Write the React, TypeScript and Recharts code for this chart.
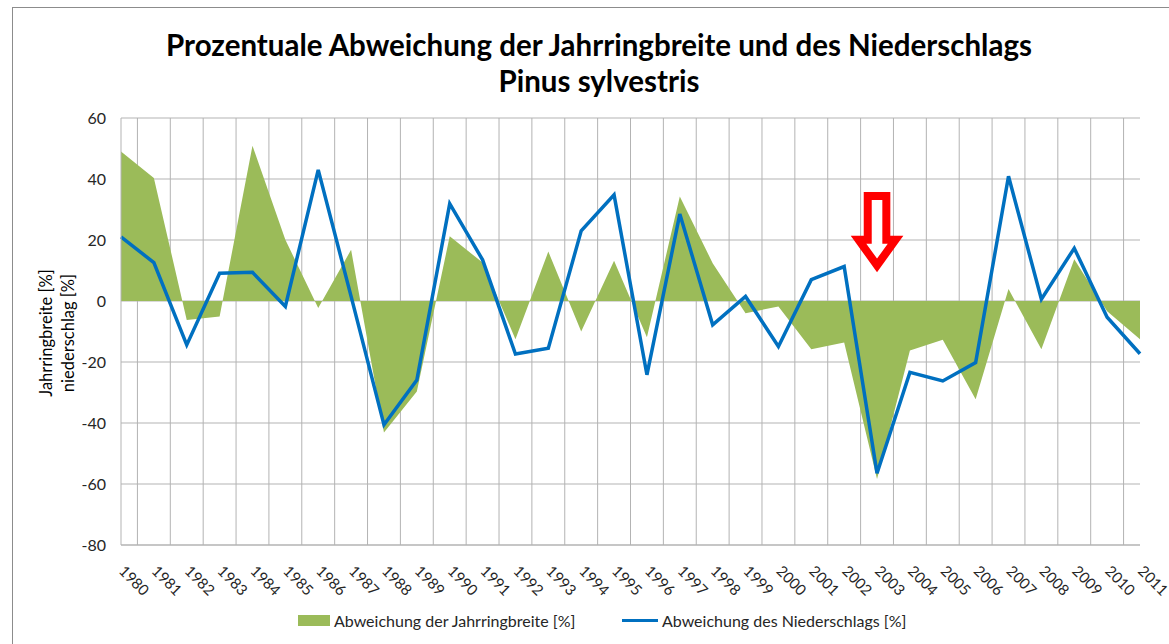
import React from "react";
import {
  ComposedChart,
  Area,
  Line,
  XAxis,
  YAxis,
  CartesianGrid,
  Legend,
  ReferenceDot,
} from "recharts";

const years = [
  1980, 1981, 1982, 1983, 1984, 1985, 1986, 1987, 1988, 1989, 1990, 1991, 1992, 1993, 1994, 1995,
  1996, 1997, 1998, 1999, 2000, 2001, 2002, 2003, 2004, 2005, 2006, 2007, 2008, 2009, 2010, 2011,
];
const ringWidth = [
  49.0, 40.3, -6.2, -5.1, 50.9, 20.1, -2.3, 16.8, -43.1, -29.7, 21.2, 12.6, -12.5, 16.2, -10.0, 13.2,
  -11.9, 34.3, 12.4, -4.0, -1.8, -15.8, -13.6, -58.4, -16.2, -12.7, -32.2, 3.9, -15.8, 13.7, -3.4, -12.5,
];
const precipitation = [
  21.0, 12.6, -14.4, 9.1, 9.4, -1.8, 43.0, 1.5, -40.6, -25.9, 31.9, 13.5, -17.4, -15.5, 23.0, 34.8,
  -24.2, 28.5, -7.8, 1.5, -14.9, 7.0, 11.3, -56.5, -23.4, -26.2, -20.2, 40.9, 0.6, 17.3, -5.3, -17.3,
];
// gridlines sit between the years
const gridYears = [
  1980.5, 1981.5, 1982.5, 1983.5, 1984.5, 1985.5, 1986.5, 1987.5, 1988.5, 1989.5, 1990.5, 1991.5,
  1992.5, 1993.5, 1994.5, 1995.5, 1996.5, 1997.5, 1998.5, 1999.5, 2000.5, 2001.5, 2002.5, 2003.5,
  2004.5, 2005.5, 2006.5, 2007.5, 2008.5, 2009.5, 2010.5,
];
const yTicks = [-80, -60, -40, -20, 0, 20, 40, 60];

const data = years.map((year, i) => ({
  year,
  ring: ringWidth[i],
  rain: precipitation[i],
}));

const FONT = "Lato, 'Open Sans', sans-serif";
const GREEN = "#9BBB59";
const BLUE = "#0070C0";
const GRID = "#B3B3B3";

function YearTick(props: any) {
  const { x, y, payload } = props;
  const ax = x - 3;
  const ay = y + 25;
  return (
    <text
      x={ax}
      y={ay}
      transform={`rotate(45, ${ax}, ${ay})`}
      fontFamily={FONT}
      fontSize={15}
      fill="#262626"
      textAnchor="start"
    >
      {payload.value}
    </text>
  );
}

function Arrow(props: any) {
  const { cx, cy } = props;
  const pts = [
    [-9.3, -75.4],
    [9.3, -75.4],
    [9.3, -31.7],
    [18.5, -31.7],
    [0, -6],
    [-18.5, -31.7],
    [-9.3, -31.7],
  ];
  const d = "M" + pts.map(([px, py]) => `${cx + px},${cy + py}`).join(" L") + " Z";
  return <path d={d} fill="#fff" stroke="#FF0000" strokeWidth={8} strokeLinejoin="miter" />;
}

function AxisTitle() {
  const cy = 333;
  return (
    <g fontFamily={FONT} fontSize={16.5} fill="#000">
      <text x={46} y={cy} transform={`rotate(-90, 46, ${cy})`} textAnchor="middle" dominantBaseline="central">
        Jahrringbreite [%]
      </text>
      <text x={68} y={cy} transform={`rotate(-90, 68, ${cy})`} textAnchor="middle" dominantBaseline="central">
        niederschlag [%]
      </text>
    </g>
  );
}

const legendLeft = [298, 622];

function LegendContent(props: any) {
  const { payload } = props;
  return (
    <div style={{ position: "relative", height: 24, fontFamily: FONT, fontSize: 16, color: "#262626" }}>
      {payload.map((entry: any, i: number) => (
        <div
          key={entry.value}
          style={{ position: "absolute", left: legendLeft[i], top: 0, display: "flex", alignItems: "center", gap: 4, whiteSpace: "nowrap" }}
        >
          {entry.type === "line" ? (
            <div style={{ width: 36, height: 3.5, background: entry.color }} />
          ) : (
            <div style={{ width: 32, height: 11, background: entry.color }} />
          )}
          <span>{entry.value}</span>
        </div>
      ))}
    </div>
  );
}

// vertical gridlines halfway between the years, placed through the x axis scale
const gridXs = ({ xAxis, offset }: any) => {
  const s = xAxis?.scale;
  if (typeof s === "function") return gridYears.map((v) => s(v));
  if (s && typeof s.map === "function") return gridYears.map((v) => s.map(v));
  const d0 = years[0];
  const d1 = years[years.length - 1];
  return gridYears.map((v) => offset.left + ((v - d0) / (d1 - d0)) * offset.width);
};

export default function App() {
  return (
    <div style={{ position: "absolute", left: 0, top: 0, width: 1169, height: 644, overflow: "hidden", background: "#fff" }}>
      <div
        style={{
          position: "absolute",
          left: 12,
          top: 7,
          width: 1200,
          height: 700,
          border: "1.5px solid #8C8C8C",
        }}
      />
      <div
        style={{
          position: "absolute",
          left: 0,
          top: 27,
          width: 1198,
          textAlign: "center",
          fontFamily: FONT,
          fontWeight: 700,
          fontSize: 29.5,
          lineHeight: "36px",
          color: "#000",
        }}
      >
        Prozentuale Abweichung der Jahrringbreite und des Niederschlags
        <br />
        Pinus sylvestris
      </div>
      <div style={{ position: "absolute", left: 0, top: 0 }}>
        <ComposedChart width={1169} height={644} data={data} margin={{ top: 118, right: 29, bottom: 59, left: 61 }}>
          <CartesianGrid stroke={GRID} strokeWidth={1} verticalCoordinatesGenerator={gridXs} />
          <XAxis
            dataKey="year"
            type="number"
            domain={[1980, 2011]}
            ticks={years}
            interval={0}
            tickLine={false}
            tickSize={0}
            axisLine={{ stroke: GRID }}
            tick={<YearTick />}
            height={40}
          />
          <YAxis
            domain={[-80, 60]}
            ticks={yTicks}
            interval={0}
            width={60}
            tickLine={false}
            tickSize={0}
            tickMargin={15}
            axisLine={{ stroke: GRID }}
            tick={{ fontFamily: FONT, fontSize: 16, fill: "#262626" }}
            label={{ content: <AxisTitle /> }}
          />
          <Area
            dataKey="ring"
            name="Abweichung der Jahrringbreite [%]"
            type="linear"
            baseValue={0}
            fill={GREEN}
            fillOpacity={1}
            stroke="none"
            legendType="rect"
            isAnimationActive={false}
          />
          <Line
            dataKey="rain"
            name="Abweichung des Niederschlags [%]"
            type="linear"
            stroke={BLUE}
            strokeWidth={3.5}
            dot={false}
            legendType="line"
            isAnimationActive={false}
          />
          <ReferenceDot x={2003} y={9.7} shape={<Arrow />} />
          <Legend
            layout="horizontal"
            verticalAlign="middle"
            align="center"
            content={<LegendContent />}
            wrapperStyle={{ top: 611, left: 0, width: 1169, height: 24 }}
          />
        </ComposedChart>
      </div>
    </div>
  );
}
